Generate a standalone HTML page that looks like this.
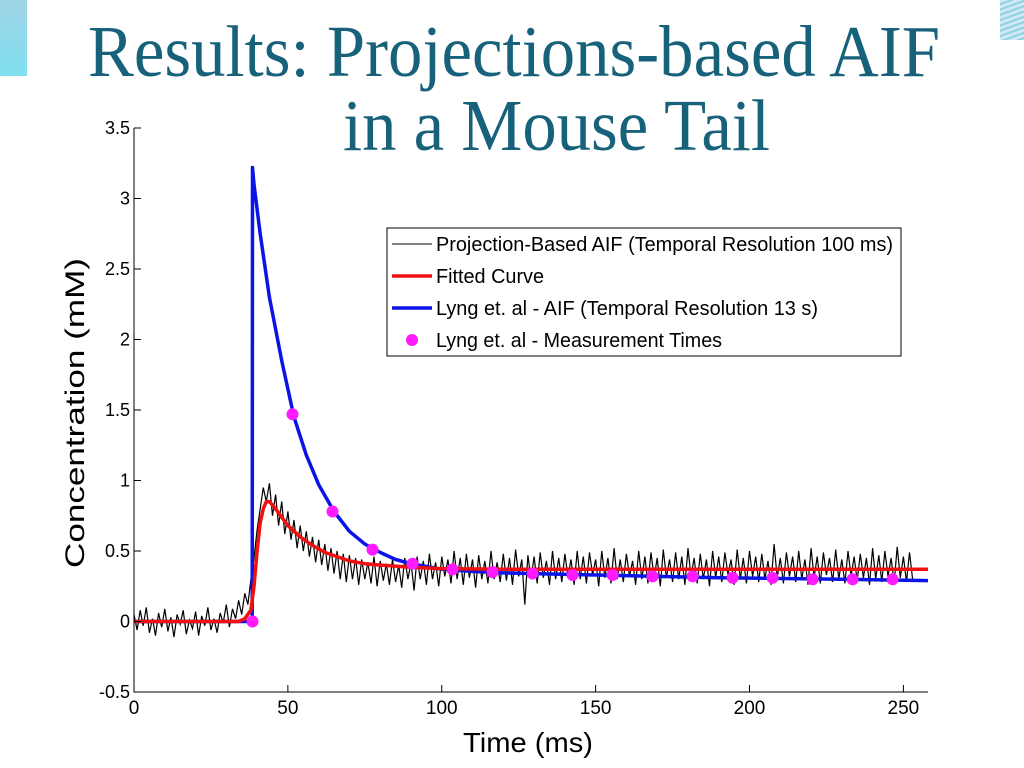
<!DOCTYPE html>
<html><head><meta charset="utf-8"><style>
body{margin:0;width:1024px;height:768px;background:#fff;overflow:hidden;position:relative;font-family:"Liberation Sans",sans-serif}
</style></head><body>
<div style="position:absolute;left:0;top:0;width:27px;height:76px;background:linear-gradient(#9fd3e6,#7fe0ef)"></div>
<div style="position:absolute;left:1000px;top:0;width:24px;height:40px;background:repeating-linear-gradient(160deg,#cfe9f3 0 3px,#8fd0e6 3px 5px)"></div>
<svg width="1024" height="170" style="position:absolute;left:0;top:0">
<text x="88" y="76" font-family="Liberation Serif, serif" font-size="73" fill="#17627a" textLength="852" lengthAdjust="spacingAndGlyphs">Results: Projections-based AIF</text>
<text x="343" y="150" font-family="Liberation Serif, serif" font-size="73" fill="#17627a" textLength="427" lengthAdjust="spacingAndGlyphs">in a Mouse Tail</text>
</svg>
<svg id="c" width="1024" height="768" style="position:absolute;left:0;top:0"></svg>
<script>
const xTicks=[0,50,100,150,200,250];
const yTicks=[-0.5,0,0.5,1,1.5,2,2.5,3,3.5];
const yTickLabels=["-0.5","0","0.5","1","1.5","2","2.5","3","3.5"];
const lyngTimes=[0,38.4,38.5,39,41,44,48,52,56,60,65,70,75,80,85,90,95,100,110,120,130,150,170,190,210,230,258];
const lyngValues=[0,0,3.22,3.1,2.75,2.3,1.85,1.45,1.18,0.97,0.78,0.64,0.55,0.49,0.44,0.41,0.39,0.37,0.355,0.345,0.34,0.33,0.32,0.31,0.305,0.3,0.29];
const measTimes=[38.5,51.5,64.5,77.5,90.5,103.5,116.5,129.5,142.5,155.5,168.5,181.5,194.5,207.5,220.5,233.5,246.5];
const measValues=[0,1.47,0.78,0.51,0.41,0.37,0.35,0.34,0.33,0.33,0.32,0.32,0.31,0.31,0.30,0.30,0.30];
const fitTimes=[0,34,36,38,39,40,41,42,43,44,46,48,50,54,58,62,66,70,75,80,90,100,120,150,200,258];
const fitValues=[0,0,0.02,0.08,0.25,0.5,0.7,0.8,0.85,0.85,0.8,0.74,0.68,0.6,0.54,0.49,0.46,0.43,0.41,0.4,0.385,0.375,0.37,0.37,0.37,0.37];
const rawStart=0, rawStep=1;
const rawValues=[0.05,-0.06,0.08,-0.03,0.1,-0.08,0.02,-0.1,0.06,-0.04,0.09,-0.07,0.03,-0.11,0.05,-0.02,0.08,-0.09,0.01,-0.05,0.07,-0.1,0.04,-0.03,0.1,-0.06,0.02,-0.08,0.06,-0.01,0.12,-0.04,0.09,0.02,0.15,0.05,0.2,0.12,0.3,0.45,0.65,0.8,0.95,0.85,0.98,0.75,0.9,0.68,0.85,0.62,0.78,0.58,0.72,0.52,0.68,0.5,0.64,0.46,0.6,0.42,0.58,0.4,0.55,0.36,0.52,0.34,0.5,0.3,0.48,0.28,0.47,0.3,0.45,0.26,0.44,0.3,0.42,0.27,0.46,0.25,0.43,0.29,0.41,0.26,0.44,0.28,0.4,0.24,0.45,0.3,0.42,0.22,0.46,0.3,0.43,0.26,0.48,0.3,0.42,0.25,0.46,0.32,0.44,0.27,0.5,0.3,0.45,0.26,0.48,0.31,0.44,0.24,0.47,0.3,0.43,0.27,0.5,0.3,0.42,0.28,0.48,0.29,0.45,0.26,0.51,0.32,0.44,0.12,0.47,0.3,0.46,0.27,0.49,0.31,0.43,0.26,0.5,0.3,0.45,0.28,0.48,0.32,0.44,0.26,0.5,0.3,0.46,0.27,0.49,0.33,0.44,0.25,0.5,0.31,0.45,0.27,0.52,0.3,0.44,0.28,0.48,0.32,0.43,0.26,0.5,0.3,0.46,0.27,0.49,0.31,0.45,0.25,0.51,0.31,0.44,0.28,0.49,0.3,0.46,0.26,0.52,0.32,0.45,0.27,0.48,0.3,0.44,0.25,0.5,0.31,0.46,0.28,0.49,0.33,0.44,0.26,0.51,0.3,0.45,0.27,0.5,0.32,0.46,0.28,0.48,0.3,0.43,0.26,0.55,0.31,0.45,0.27,0.49,0.32,0.46,0.28,0.5,0.3,0.44,0.26,0.52,0.31,0.46,0.27,0.49,0.33,0.45,0.28,0.51,0.3,0.44,0.27,0.5,0.32,0.46,0.29,0.48,0.31,0.45,0.26,0.52,0.3,0.47,0.28,0.5,0.32,0.45,0.27,0.53,0.31,0.46,0.28,0.49,0.3];
const NS="http://www.w3.org/2000/svg";
const svg=document.getElementById('c');
const X0=134,X1=928,XMAX=258,Y0=692,Y1=128;
const sx=v=>X0+v/XMAX*(X1-X0);
const sy=v=>Y0-(v+0.5)/4*(Y0-Y1);
function el(tag,a,p){const e=document.createElementNS(NS,tag);for(const k in a)e.setAttribute(k,a[k]);(p||svg).appendChild(e);return e;}
let d=rawValues.map((v,i)=>(i?'L':'M')+sx(rawStart+i*rawStep).toFixed(1)+','+sy(v).toFixed(1)).join('');
const raw=el('path',{d,fill:'none',stroke:'#000','stroke-width':1.2});


d=lyngTimes.map((t,i)=>(i?'L':'M')+sx(t).toFixed(1)+','+sy(lyngValues[i]).toFixed(1)).join('');
const blue=el('path',{d,fill:'none',stroke:'#0a14e6','stroke-width':3.5,'stroke-linejoin':'round'});


d=fitTimes.map((t,i)=>(i?'L':'M')+sx(t).toFixed(1)+','+sy(fitValues[i]).toFixed(1)).join('');
const red=el('path',{d,fill:'none',stroke:'#f01010','stroke-width':3.5,'stroke-linejoin':'round'});


measTimes.forEach((t,i)=>{const c=el('circle',{cx:sx(t),cy:sy(measValues[i]),r:6,fill:'#ff1aff'});

});
const ax=el('path',{d:`M${X0},${Y1}V${Y0}H${X1}`,fill:'none',stroke:'#000','stroke-width':1});


xTicks.forEach(v=>{el('line',{x1:sx(v),x2:sx(v),y1:Y0,y2:Y0-7,stroke:'#000'});
const t=el('text',{x:sx(v),y:Y0+22,'text-anchor':'middle','font-size':19,'font-family':'Liberation Sans, sans-serif'});t.textContent=v;

});
yTicks.forEach((v,i)=>{el('line',{x1:X0,x2:X0+7,y1:sy(v),y2:sy(v),stroke:'#000'});
const t=el('text',{x:X0-4,y:sy(v)+6,'text-anchor':'end','font-size':18,'font-family':'Liberation Sans, sans-serif'});t.textContent=yTickLabels[i];

});
const xl=el('text',{x:463,y:752,'font-size':28,'font-family':'Liberation Sans, sans-serif',textLength:130,lengthAdjust:'spacingAndGlyphs'});xl.textContent='Time (ms)';


const yl=el('text',{x:0,y:0,'font-size':27,'font-family':'Liberation Sans, sans-serif',textLength:310,lengthAdjust:'spacingAndGlyphs',transform:'translate(84,568) rotate(-90)'});yl.textContent='Concentration (mM)';


const lg=el('g',{});


el('rect',{x:387,y:228,width:514,height:128,fill:'#fff',stroke:'#000'},lg);
const items=[['Projection-Based AIF (Temporal Resolution 100 ms)','#000',1,'line',457],['Fitted Curve','#f01010',3.5,'line',108],['Lyng et. al - AIF (Temporal Resolution 13 s)','#0a14e6',3.5,'line',382],['Lyng et. al - Measurement Times','#ff1aff',0,'dot',286]];
items.forEach((it,i)=>{const y=244+i*32;
if(it[3]=='line')el('line',{x1:392,x2:432,y1:y,y2:y,stroke:it[1],'stroke-width':it[2]},lg);else el('circle',{cx:412,cy:y,r:6,fill:it[1]},lg);
const t=el('text',{x:436,y:y+7,'font-size':20,'font-family':'Liberation Sans, sans-serif',textLength:it[4],lengthAdjust:'spacingAndGlyphs'},lg);t.textContent=it[0];

});
</script>
</body></html>
